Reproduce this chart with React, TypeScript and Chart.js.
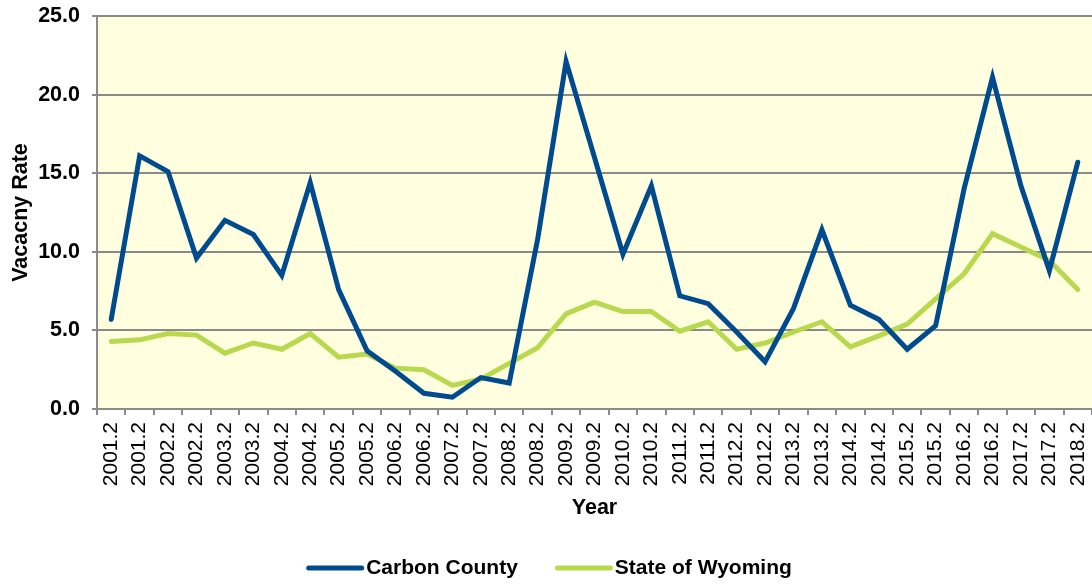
import React, { useEffect, useRef } from "react";
import { Chart, registerables } from "chart.js";

Chart.register(...registerables);

const periods: string[] = [
  "2001.2", "2001.2", "2002.2", "2002.2", "2003.2", "2003.2", "2004.2", "2004.2",
  "2005.2", "2005.2", "2006.2", "2006.2", "2007.2", "2007.2", "2008.2", "2008.2",
  "2009.2", "2009.2", "2010.2", "2010.2", "2011.2", "2011.2", "2012.2", "2012.2",
  "2013.2", "2013.2", "2014.2", "2014.2", "2015.2", "2015.2", "2016.2", "2016.2",
  "2017.2", "2017.2", "2018.2",
];

const carbonCounty: number[] = [
  5.7, 16.1, 15.1, 9.6, 12.0, 11.1, 8.5, 14.4, 7.6, 3.7, 2.4, 1.0,
  0.75, 2.0, 1.65, 10.8, 22.1, 16.0, 9.85, 14.2, 7.2, 6.7, 4.9, 3.0,
  6.4, 11.4, 6.6, 5.7, 3.8, 5.3, 14.0, 21.1, 14.2, 8.8, 15.7,
];

const stateOfWyoming: number[] = [
  4.3, 4.4, 4.8, 4.7, 3.55, 4.2, 3.8, 4.8, 3.3, 3.5, 2.6, 2.5,
  1.5, 1.9, 2.9, 3.9, 6.05, 6.8, 6.2, 6.2, 4.95, 5.55, 3.8, 4.2,
  4.9, 5.55, 3.95, 4.65, 5.4, 7.0, 8.6, 11.15, 10.3, 9.45, 7.6,
];

const yTicks: number[] = [0, 5, 10, 15, 20, 25];

const FONT = "'Liberation Sans', Arial, Helvetica, sans-serif";
const GRID = "#8a8a8a";

const bgPlugin = {
  id: "plotBg",
  beforeDraw(chart: any) {
    const { ctx, chartArea } = chart;
    if (!chartArea) return;
    ctx.save();
    ctx.fillStyle = "#FFFFE0";
    ctx.fillRect(chartArea.left, chartArea.top, chartArea.right - chartArea.left, chartArea.bottom - chartArea.top);
    ctx.restore();
  },
};

const legendPlugin = {
  id: "lineLegend",
  afterDraw(chart: any) {
    const { ctx, width } = chart;
    const sets = chart.data.datasets;
    const lineW = 58;
    const gapText = 2;
    const gapItems = 37;
    const y = 568;
    ctx.save();
    ctx.font = `bold 21px ${FONT}`;
    ctx.textBaseline = "middle";
    ctx.textAlign = "left";
    const widths = sets.map((d: any) => lineW + gapText + ctx.measureText(d.label).width);
    const total = widths.reduce((a: number, b: number) => a + b, 0) + gapItems * (sets.length - 1);
    let x = (width - total) / 2 + 3;
    sets.forEach((d: any, i: number) => {
      ctx.strokeStyle = d.borderColor;
      ctx.lineWidth = 5;
      ctx.lineCap = "round";
      ctx.beginPath();
      ctx.moveTo(x + 2.5, y);
      ctx.lineTo(x + lineW - 2.5, y);
      ctx.stroke();
      ctx.fillStyle = "#000";
      ctx.fillText(d.label, x + lineW + gapText, y);
      x += widths[i] + gapItems;
    });
    ctx.restore();
  },
};

export default function App() {
  const ref = useRef<HTMLCanvasElement | null>(null);

  useEffect(() => {
    document.body.style.margin = "0";
    const canvas = ref.current;
    if (!canvas) return;
    const chart = new Chart(canvas, {
      type: "line",
      data: {
        labels: periods,
        datasets: [
          {
            label: "Carbon County",
            data: carbonCounty,
            borderColor: "#004B8D",
            backgroundColor: "#004B8D",
            borderWidth: 5,
            pointRadius: 0,
            tension: 0,
            borderJoinStyle: "miter",
            borderCapStyle: "round",
          },
          {
            label: "State of Wyoming",
            data: stateOfWyoming,
            borderColor: "#B8D84E",
            backgroundColor: "#B8D84E",
            borderWidth: 5,
            pointRadius: 0,
            tension: 0,
            borderJoinStyle: "miter",
            borderCapStyle: "round",
          },
        ],
      },
      options: {
        responsive: false,
        animation: false,
        layout: { padding: { top: 16, right: 0, left: 0, bottom: 0 } },
        plugins: {
          tooltip: { enabled: false },
          legend: { display: false },
        },
        scales: {
          x: {
            offset: true,
            afterFit: (s: any) => {
              s.height = 179;
              s.paddingLeft = 0;
              s.paddingRight = 0;
            },
            grid: {
              display: true,
              offset: true,
              drawOnChartArea: false,
              drawTicks: true,
              tickLength: 6,
              color: GRID,
              lineWidth: 2,
            },
            border: { display: true, color: GRID, width: 2 },
            ticks: {
              autoSkip: false,
              maxRotation: 90,
              minRotation: 90,
              padding: 7,
              color: "#000",
              font: { family: FONT, size: 21 },
            },
            title: {
              display: true,
              text: "Year",
              color: "#000",
              font: { family: FONT, size: 21.5, weight: "bold" },
              padding: { top: 0, bottom: 67 },
            },
          },
          y: {
            min: 0,
            max: 25,
            afterFit: (s: any) => {
              s.width = 97;
              s.paddingTop = 0;
              s.paddingBottom = 0;
            },
            afterBuildTicks: (s: any) => {
              s.ticks = yTicks.map((v) => ({ value: v }));
            },
            grid: {
              display: true,
              drawTicks: true,
              tickLength: 5,
              color: GRID,
              lineWidth: 2,
            },
            border: { display: true, color: GRID, width: 2 },
            ticks: {
              padding: 12,
              color: "#000",
              font: { family: FONT, size: 21.5, weight: "bold" },
              callback: (v: any) => Number(v).toFixed(1),
            },
            title: {
              display: true,
              text: "Vacacny Rate",
              color: "#000",
              font: { family: FONT, size: 21.5, weight: "bold" },
              padding: { top: 8, bottom: 0 },
            },
          },
        },
      },
      plugins: [bgPlugin, legendPlugin],
    });
    return () => chart.destroy();
  }, []);

  return (
    <div style={{ width: 1092, height: 588 }}>
      <canvas ref={ref} width={1092} height={588} style={{ display: "block" }} />
    </div>
  );
}
